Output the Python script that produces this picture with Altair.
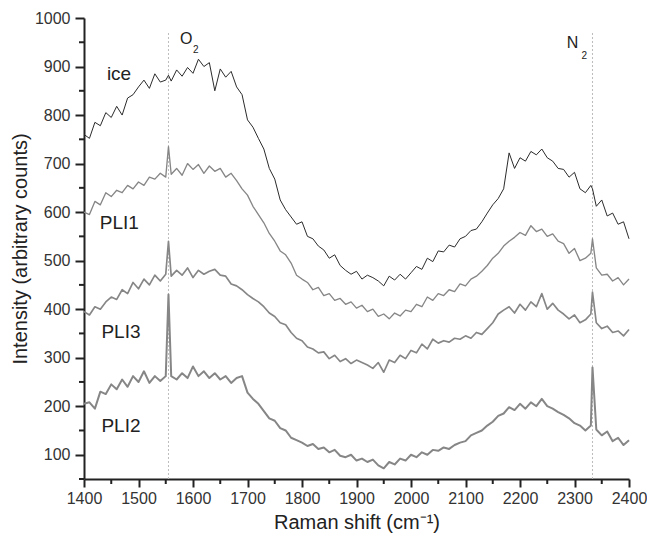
import altair as alt
import pandas as pd

# Raman shift sampling positions (cm^-1); extra samples at the O2 and N2 lines
shift = (list(range(1400, 1551, 10)) + [1555] + list(range(1560, 2331, 10))
         + [2333] + list(range(2340, 2401, 10)))

ice = [760, 752, 785, 778, 805, 795, 818, 800, 835, 842, 858, 872, 855, 885, 868, 872,
       882,
       870, 893, 880, 898, 886, 915, 900, 908, 850, 895,
       878, 890, 858, 842, 790, 775, 752, 730, 690, 668,
       625, 605, 590, 575, 580, 550, 545, 530, 522, 505,
       512, 490, 480, 472, 478, 462, 470, 465, 458, 448,
       468, 460, 472, 462, 475, 488, 482, 505, 498, 520,
       518, 532, 528, 545, 550, 562, 565, 580, 598, 615,
       628, 648, 722, 690, 712, 705, 725, 718, 730, 712,
       705, 690, 688, 672, 682, 648, 640, 655,
       648,
       612, 625, 592, 598, 575, 580, 545]

pli1 = [600, 595, 622, 615, 640, 632, 645, 640, 655, 648, 662, 655, 672, 668, 680, 672,
        735,
        678, 690, 676, 700, 688, 698, 680, 695, 684, 690,
        672, 680, 665, 648, 635, 612, 595, 578, 556, 540,
        520, 512, 495, 470, 462, 455, 440, 445, 428, 432,
        418, 422, 410, 415, 402, 408, 395, 400, 385, 390,
        380, 392, 386, 398, 395, 410, 405, 425, 418, 432,
        428, 440, 436, 452, 448, 462, 468, 478, 490, 505,
        515, 530, 540, 548, 558, 552, 572, 560, 565, 550,
        555, 540, 535, 515, 525, 500, 505, 515,
        545,
        485, 470, 472, 458, 465, 450, 462]

pli3 = [395, 388, 405, 400, 415, 425, 420, 440, 432, 455, 442, 462, 450, 470, 458, 472,
        540,
        468, 480, 470, 485, 465, 480, 472, 478, 482, 470,
        468, 452, 448, 440, 430, 422, 415, 405, 392, 385,
        372, 368, 352, 340, 335, 322, 318, 310, 312, 298,
        305, 292, 298, 288, 295, 290, 285, 278, 290, 270,
        295, 290, 305, 298, 315, 310, 328, 318, 338, 330,
        335, 332, 340, 338, 345, 340, 352, 348, 360, 372,
        390, 398, 405, 392, 410, 398, 415, 405, 432, 400,
        412, 398, 390, 380, 388, 372, 378, 390,
        435,
        372, 360, 365, 352, 355, 345, 358]

pli2 = [205, 208, 195, 230, 225, 245, 235, 255, 240, 262, 250, 272, 248, 262, 252, 262,
        430,
        262, 255, 268, 258, 282, 262, 272, 258, 268, 255,
        262, 248, 258, 262, 228, 215, 205, 190, 175, 170,
        155, 150, 135, 130, 125, 118, 122, 112, 115, 105,
        110, 98, 95, 100, 88, 92, 85, 90, 78, 72,
        85, 80, 92, 88, 100, 95, 105, 100, 110, 108,
        115, 112, 120, 125, 128, 140, 145, 150, 160, 168,
        180, 185, 198, 192, 205, 195, 208, 200, 215, 200,
        195, 188, 182, 175, 165, 160, 150, 160,
        280,
        152, 140, 148, 128, 135, 120, 130]

series_names = ["ice", "PLI1", "PLI3", "PLI2"]
series_values = [ice, pli1, pli3, pli2]
series_colors = ["#2b2b2b", "#868686", "#868686", "#868686"]
series_widths = [1.0, 2.0, 2.0, 2.0]

# axis tick positions
x_major = list(range(1400, 2401, 100))
x_minor = list(range(1450, 2351, 100))
y_major = list(range(100, 1001, 100))
y_minor = list(range(50, 951, 100))

# reference lines (O2, N2)
line_pos = [1555, 2333]
line_bottom = [50, 50]
line_top = [970, 970]

# annotation texts
ann_text = ["ice", "PLI1", "PLI3", "PLI2", "O", "2", "N", "2"]
ann_x = [1442, 1429, 1432, 1432, 1576, 1600, 2286, 2313]
ann_y = [885, 578, 352, 160, 956, 934, 948, 922]
ann_size = [19, 19, 19, 19, 16, 10, 16, 10]

for v in series_values:
    assert len(v) == len(shift)

rows = []
for name, vals in zip(series_names, series_values):
    for s, v in zip(shift, vals):
        rows.append({"shift": s, "intensity": v, "series": name})
df = pd.DataFrame(rows)

rules_df = pd.DataFrame({"shift": line_pos, "intensity": line_bottom, "intensity2": line_top})
ann_df = pd.DataFrame({"shift": ann_x, "intensity": ann_y, "label": ann_text, "fs": ann_size})
xminor_df = pd.DataFrame({"shift": x_minor})
yminor_df = pd.DataFrame({"intensity": y_minor})

FONT = "Liberation Sans"
W, H = 545, 461
AX = "#222222"

common_axis = dict(
    labelFontSize=16, titleFontSize=20, labelFont=FONT, titleFont=FONT,
    labelColor="#333333", titleColor="#222222", titleFontWeight="normal",
    domainColor=AX, tickColor=AX, domainWidth=2, tickWidth=2,
    grid=False, labelOverlap=False, labelFlush=False, format="d",
)
xaxis = alt.Axis(values=x_major, tickSize=8, labelPadding=3, titlePadding=6, **common_axis)
yaxis = alt.Axis(values=y_major, tickSize=9, labelPadding=5, titlePadding=4, **common_axis)

X = alt.X("shift:Q", scale=alt.Scale(domain=[1400, 2400], nice=False, zero=False),
          axis=xaxis, title="Raman shift (cm⁻¹)")
Y = alt.Y("intensity:Q", scale=alt.Scale(domain=[50, 1000], nice=False, zero=False),
          axis=yaxis, title="Intensity (arbitrary counts)")

rules = alt.Chart(rules_df).mark_rule(color="#bdbdbd", strokeDash=[2, 2], strokeWidth=1).encode(
    x=X, y=Y, y2="intensity2:Q"
)

lines = alt.Chart(df).mark_line(strokeJoin="round").encode(
    x=X, y=Y,
    color=alt.Color("series:N", scale=alt.Scale(domain=series_names, range=series_colors), legend=None),
    strokeWidth=alt.StrokeWidth("series:N", scale=alt.Scale(domain=series_names, range=series_widths), legend=None),
)

texts = alt.Chart(ann_df).mark_text(align="left", baseline="middle", font=FONT, color="#222222").encode(
    x=X, y=Y, text="label:N", size=alt.Size("fs:Q", scale=None, legend=None)
)

xminor = alt.Chart(xminor_df).mark_rule(color=AX, strokeWidth=2).encode(
    x=X, y=alt.value(H), y2=alt.value(H + 5)
)
yminor = alt.Chart(yminor_df).mark_rule(color=AX, strokeWidth=2).encode(
    y=Y, x=alt.value(0), x2=alt.value(-5)
)

chart = alt.layer(rules, lines, texts, xminor, yminor).properties(
    width=W, height=H,
    autosize=alt.AutoSizeParams(type="none"),
    padding={"left": 76, "top": 10, "right": 18, "bottom": 55},
).configure_view(stroke=None)

chart.save("out.html", embed_options={"renderer": "svg", "actions": False})
